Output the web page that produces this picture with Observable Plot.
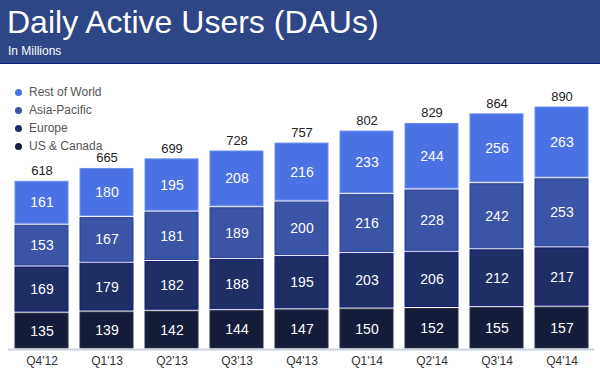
<!DOCTYPE html>
<html>
<head>
<meta charset="utf-8">
<script src="https://cdn.jsdelivr.net/npm/d3@7"></script>
<script src="https://cdn.jsdelivr.net/npm/@observablehq/plot@0.6"></script>
<style>
  html, body { margin: 0; padding: 0; background: #fff; }
  body { width: 600px; height: 369px; overflow: hidden; font-family: "Liberation Sans", Arial, sans-serif; position: relative; }
  #header { height: 63px; background: #2e4586; border-bottom: 1px solid #141a78; position: relative; }
  #title { position: absolute; left: 7px; top: 3px; color: #fff; font-size: 32px; line-height: 38px; white-space: nowrap; }
  #subtitle { position: absolute; left: 8px; top: 44px; color: #fff; font-size: 12px; line-height: 14px; }
  #legend { position: absolute; left: 15px; top: 83px; font-size: 12px; color: #555; }
  #legend div { height: 18px; line-height: 16px; display: flex; align-items: center; }
  #legend span.dot { display: inline-block; width: 7px; height: 7px; border-radius: 50%; margin-right: 7px; }
</style>
</head>
<body>
<div id="header"><div id="title">Daily Active Users (DAUs)</div><div id="subtitle">In Millions</div></div>
<div id="chart"></div>
<div id="legend"></div>
<script>
const quarters = ["Q4'12","Q1'13","Q2'13","Q3'13","Q4'13","Q1'14","Q2'14","Q3'14","Q4'14"];
const regions = ["US & Canada","Europe","Asia-Pacific","Rest of World"];
const usCanada = [135,139,142,144,147,150,152,155,157];
const europe = [169,179,182,188,195,203,206,212,217];
const asiaPacific = [153,167,181,189,200,216,228,242,253];
const restOfWorld = [161,180,195,208,216,233,244,256,263];
const totals = [618,665,699,728,757,802,829,864,890];
const colors = ["#141c3a","#202e66","#3a54a6","#4a72e4"];
const strokes = ["#2a2f44","#141a78","#2a3f98","#6b8ded"];

const series = [usCanada, europe, asiaPacific, restOfWorld];
const data = [];
regions.forEach((r, i) => quarters.forEach((q, j) => data.push({quarter: q, region: r, value: series[i][j]})));
const totalData = quarters.map((q, j) => ({quarter: q, total: totals[j]}));

const chart = Plot.plot({
  width: 600,
  height: 305,
  marginLeft: 8,
  marginRight: 6,
  marginTop: 12,
  marginBottom: 20,
  style: {fontFamily: "'Liberation Sans', Arial, sans-serif", background: "transparent"},
  x: {domain: quarters, paddingInner: 0.186, paddingOuter: 0.093, label: null},
  y: {domain: [0, 1000], axis: null},
  color: {domain: regions, range: colors},
  marks: [
    Plot.barY(data, Plot.stackY({x: "quarter", y: "value", z: "region", order: regions,
      fill: "region", stroke: d => strokes[regions.indexOf(d.region)], strokeWidth: 1, insetTop: 1, insetBottom: 1})),
    Plot.text(data, Plot.stackY({x: "quarter", y: "value", z: "region", order: regions,
      text: d => String(d.value), fill: "white", fontSize: 14})),
    Plot.text(totalData, {x: "quarter", y: "total", text: d => String(d.total), dy: -10, fontSize: 13, fill: "#222"}),
    Plot.ruleY([0], {stroke: "#c9d2e3", strokeWidth: 2}),
    Plot.axisX({tickSize: 0, tickPadding: 7, fontSize: 12, color: "#333", label: null})
  ]
});
document.getElementById("chart").appendChild(chart);

const legend = document.getElementById("legend");
[...regions].reverse().forEach(r => {
  const row = document.createElement("div");
  const dot = document.createElement("span");
  dot.className = "dot";
  dot.style.background = colors[regions.indexOf(r)];
  row.appendChild(dot);
  row.appendChild(document.createTextNode(r));
  legend.appendChild(row);
});
</script>
</body>
</html>
